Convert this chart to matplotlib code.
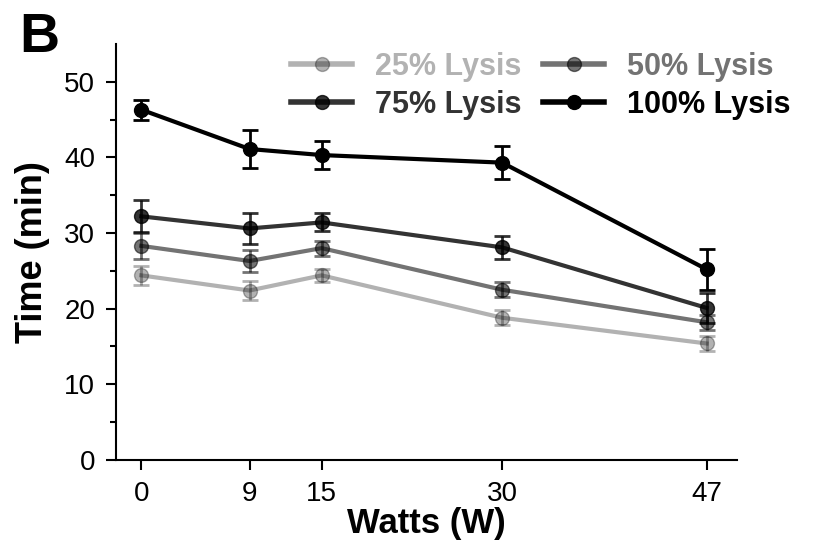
import matplotlib
matplotlib.use("Agg")
import matplotlib.pyplot as plt
import numpy as np

plt.rcParams['font.family'] = ['Liberation Sans', 'DejaVu Sans']

# power settings (W)
watts = [0, 9, 15, 30, 47]

# time to reach each lysis level (min) and error bars
lysis_25 = [24.4, 22.4, 24.4, 18.8, 15.4]
err_25 = [1.3, 1.3, 0.9, 1.0, 1.0]
lysis_50 = [28.3, 26.3, 28.0, 22.5, 18.2]
err_50 = [1.7, 1.5, 1.0, 1.0, 1.0]
lysis_75 = [32.2, 30.6, 31.4, 28.1, 20.1]
err_75 = [2.1, 2.0, 1.2, 1.5, 2.0]
lysis_100 = [46.3, 41.1, 40.3, 39.3, 25.2]
err_100 = [1.3, 2.5, 1.9, 2.2, 2.7]

labels = ["25% Lysis", "50% Lysis", "75% Lysis", "100% Lysis"]
alphas = [0.3, 0.55, 0.8, 1.0]

fig = plt.figure(figsize=(8.14, 5.48), dpi=100)
ax = fig.add_axes([0.1425, 0.1606, 0.7625, 0.7594])

series = [(lysis_25, err_25), (lysis_50, err_50), (lysis_75, err_75), (lysis_100, err_100)]
handles = []
for (vals, errs), lab, a in zip(series, labels, alphas):
    cont = ax.errorbar(watts, vals, yerr=errs, color='black', alpha=a, lw=3, marker='o',
                       markersize=10, capsize=6, elinewidth=2, capthick=2, label=lab)
    handles.append(cont[0])

ax.set_xlim(-2.1, 49.5)
ax.set_ylim(0, 55)
ax.set_xticks(watts)
ax.set_yticks([0, 10, 20, 30, 40, 50])
ax.set_yticks(np.arange(5, 55, 10), minor=True)
ax.tick_params(axis='both', labelsize=20, width=1.5, length=7, pad=8)
ax.tick_params(axis='y', which='minor', width=1.5, length=4)
for s in ['top', 'right']:
    ax.spines[s].set_visible(False)
for s in ['left', 'bottom']:
    ax.spines[s].set_linewidth(1.5)

ax.set_xlabel("Watts (W)", fontsize=25, fontweight='bold', labelpad=0)
ax.set_ylabel("Time (min)", fontsize=26, fontweight='bold', labelpad=10)

# legend filled row by row: 25, 50 / 75, 100
order = [0, 2, 1, 3]
leg = fig.legend([handles[i] for i in order], [labels[i] for i in order],
                 loc='upper right', bbox_to_anchor=(1.005, 0.955), ncol=2, frameon=False,
                 prop={'size': 22, 'weight': 'bold'}, handlelength=2.0,
                 columnspacing=0.7, handletextpad=0.75, labelspacing=0.25)
for line in leg.get_lines():
    line.set_linewidth(4)
for txt, i in zip(leg.get_texts(), order):
    txt.set_color('black')
    txt.set_alpha(alphas[i])

fig.text(0.024, 0.905, "B", fontsize=40, fontweight='bold')

fig.savefig("out.png", dpi=100)
